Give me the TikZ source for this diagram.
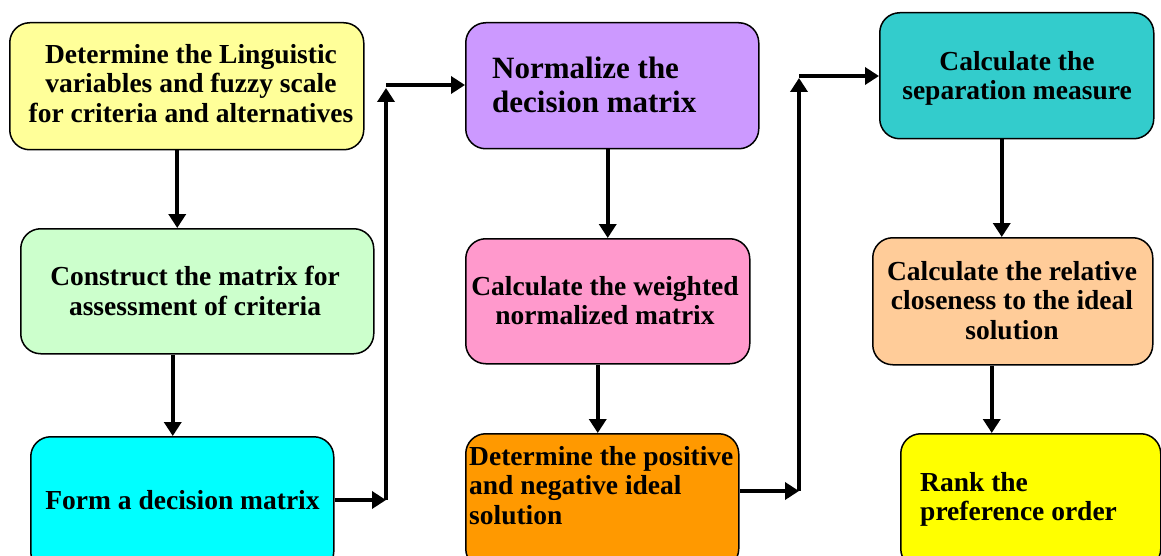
\documentclass[tikz,border=0pt]{standalone}
\usepackage{fontspec}
\setmainfont{Liberation Serif}
\usetikzlibrary{arrows.meta}

% fill colours of the nine steps
\definecolor{cLing}{HTML}{FFFF99}
\definecolor{cCons}{HTML}{CCFFCC}
\definecolor{cForm}{HTML}{00FFFF}
\definecolor{cNorm}{HTML}{CC99FF}
\definecolor{cWeig}{HTML}{FF99CC}
\definecolor{cIdea}{HTML}{FF9900}
\definecolor{cSepa}{HTML}{33CCCC}
\definecolor{cClos}{HTML}{FFCC99}
\definecolor{cRank}{HTML}{FFFF00}

\tikzset{
  stepbox/.style={draw=black, line width=1.5pt, rounded corners=20pt,
                  inner sep=0pt, anchor=north west},
  steptext/.style={inner sep=0pt, text=black,
                   font=\fontsize{27.5}{29.5}\selectfont\bfseries},
  bigtext/.style={inner sep=0pt, text=black,
                  font=\fontsize{31}{34}\selectfont\bfseries},
  flow/.style={line width=4.2pt, -{Triangle[length=14pt,width=17pt]}},
}

\begin{document}
\begin{tikzpicture}[x=1pt,y=-1pt]
\useasboundingbox (0,0) rectangle (1161,556);
\clip (0,0) rectangle (1161,556);

% step boxes
\node[stepbox, fill=cLing, minimum width=354pt, minimum height=127pt] (b1) at (9,22) {};
\node[stepbox, fill=cCons, minimum width=353pt, minimum height=125pt] (b2) at (20,228) {};
\node[stepbox, fill=cForm, minimum width=303pt, minimum height=135pt] (b3) at (30,436) {};
\node[stepbox, fill=cNorm, minimum width=293pt, minimum height=126pt] (b4) at (465,22) {};
\node[stepbox, fill=cWeig, minimum width=284pt, minimum height=125pt] (b5) at (465,238) {};
\node[stepbox, fill=cIdea, minimum width=273pt, minimum height=135pt] (b6) at (465,433) {};
\node[stepbox, fill=cSepa, minimum width=274pt, minimum height=126pt] (b7) at (879,12) {};
\node[stepbox, fill=cClos, minimum width=280pt, minimum height=127pt] (b8) at (872,237) {};
\node[stepbox, fill=cRank, minimum width=260pt, minimum height=135pt] (b9) at (900,433) {};

% step texts
\node[steptext, align=center, anchor=north] (t1) at (191,44)
  {Determine the Linguistic\\variables and fuzzy scale\\for criteria and alternatives};
\node[steptext, align=center, anchor=north] (t2) at (195,266)
  {Construct the matrix for\\assessment of criteria};
\node[steptext, anchor=north] (t3) at (182.5,490) {Form a decision matrix};
\node[bigtext, align=left, anchor=north west] (t4) at (492,57)
  {Normalize the\\decision matrix};
\node[steptext, align=center, anchor=north] (t5) at (605,276)
  {Calculate the weighted\\normalized matrix};
\node[steptext, align=left, anchor=north west] (t6) at (469,446)
  {Determine the positive\\and negative ideal\\solution};
\node[steptext, align=center, anchor=north] (t7) at (1017,51)
  {Calculate the\\separation measure};
\node[steptext, align=center, anchor=north] (t8) at (1012,261)
  {Calculate the relative\\closeness to the ideal\\solution};
\node[steptext, align=left, anchor=north west] (t9) at (920,472)
  {Rank the\\preference order};

% corner points of the two elbow links
\coordinate (c1) at (386,500);
\coordinate (c2) at (386,88);
\coordinate (c3) at (799,491);
\coordinate (c4) at (799,78);

% column links
\draw[flow] ([xshift=-9.5pt]b1.south) -- ([xshift=-9.5pt]b1.south |- b2.north);
\draw[flow] ([xshift=-24.5pt]b2.south) -- ([xshift=-24.5pt]b2.south |- b3.north);
\draw[flow] ([xshift=-4.5pt]b4.south) -- ([xshift=-4.5pt]b4.south |- b5.north);
\draw[flow] ([xshift=-10pt]b5.south) -- ([xshift=-10pt]b5.south |- b6.north);
\draw[flow] ([xshift=-15pt]b7.south) -- ([xshift=-15pt]b7.south |- b8.north);
\draw[flow] ([xshift=-21pt]b8.south) -- ([xshift=-21pt]b8.south |- b9.north);

% elbow links between the columns
\draw[flow] (b3.east |- c1) -- (c1);
\draw[flow] (c1) -- (c2);
\draw[flow] ([yshift=3pt]c2) -- ([yshift=3pt]c2 -| b4.west);
\draw[flow] (b6.east |- c3) -- (c3);
\draw[flow] (c3) -- (c4);
\draw[flow] ([yshift=2pt]c4) -- ([yshift=2pt]c4 -| b7.west);
\end{tikzpicture}
\end{document}
